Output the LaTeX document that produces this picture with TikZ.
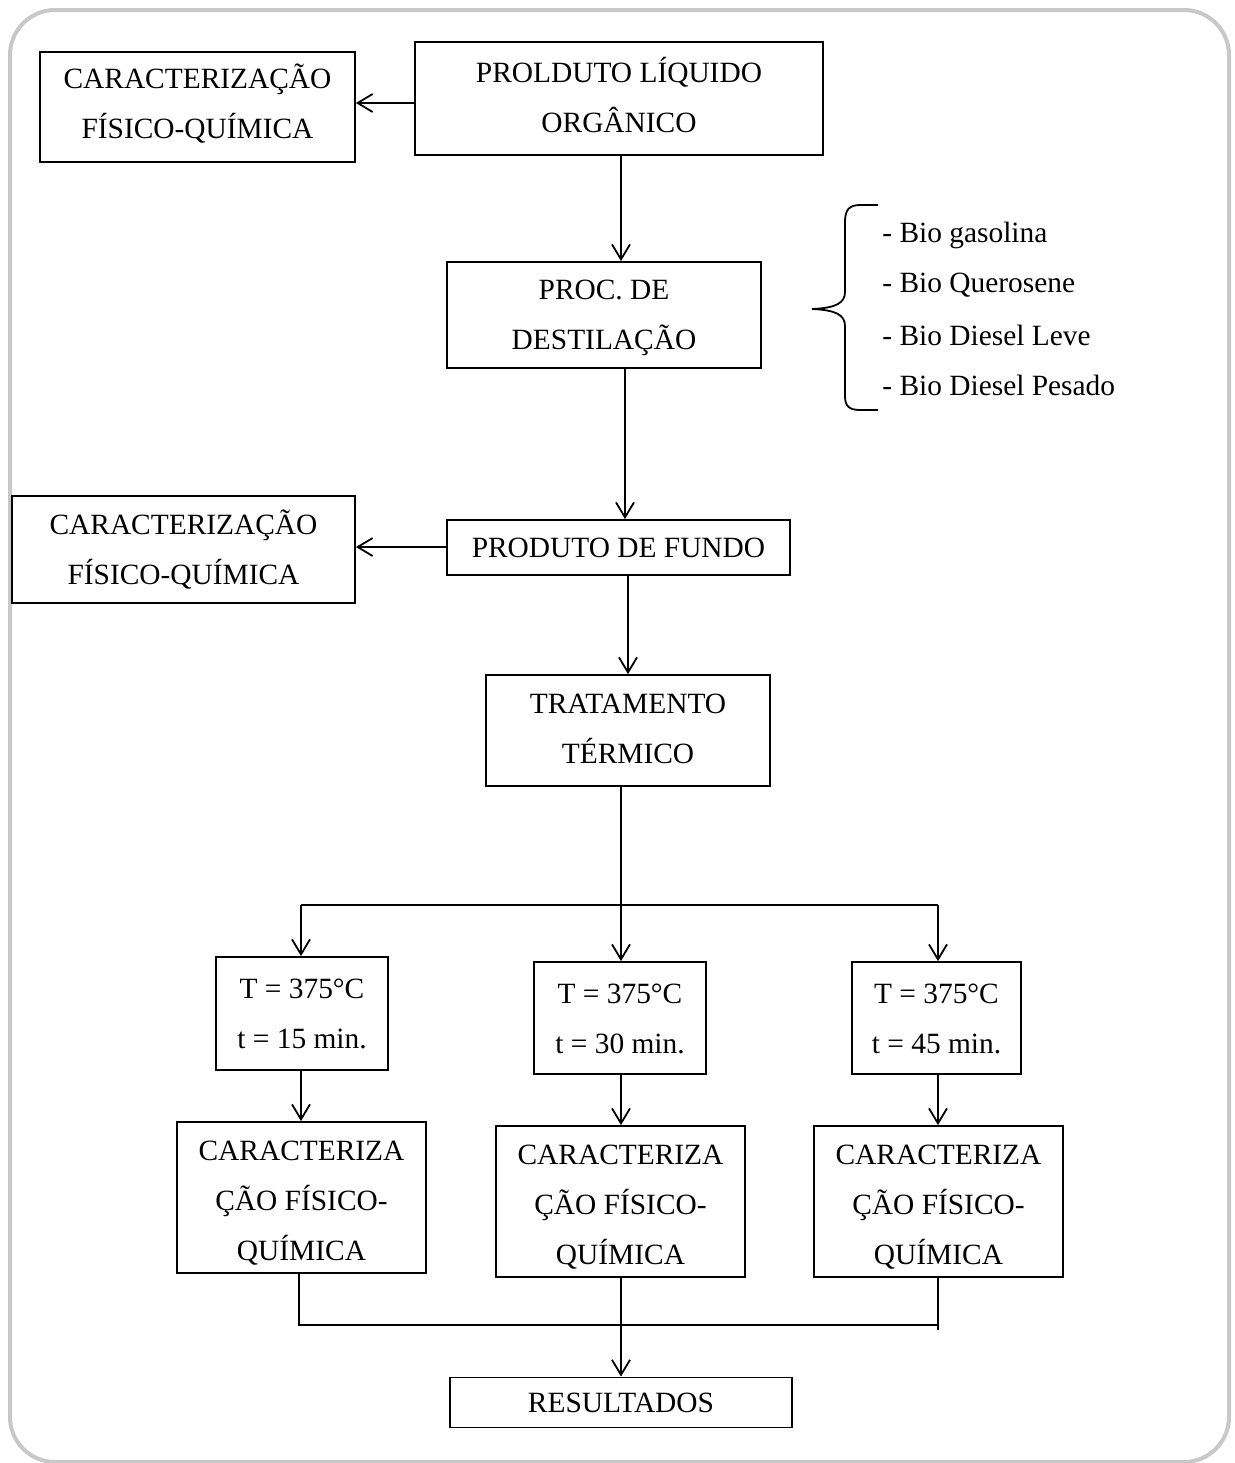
\documentclass[tikz,border=0pt]{standalone}
\usepackage{fontspec}
\setmainfont{Liberation Serif}
\usetikzlibrary{arrows.meta}
\definecolor{framegray}{RGB}{200,200,200}
\newcommand{\tb}[1]{\begin{tabular}{@{}c@{}}#1\end{tabular}}
\newcommand{\tbs}[2]{\raisebox{#1}[\dimexpr\height-(#1)\relax][\dimexpr\depth+(#1)\relax]{\tb{#2}}}
\begin{document}
\begin{tikzpicture}[x=0.5pt,y=-0.5pt,
 box/.style={draw, line width=0.9pt, inner sep=0pt, align=center, font=\fontsize{14.7}{25}\selectfont},
 arr/.style={line width=0.9pt, -{Straight Barb[length=7.5pt,width=9pt,line width=0.9pt]}},
 ln/.style={line width=0.9pt},
 lbl/.style={anchor=west, inner sep=0pt, font=\fontsize{14.7}{25}\selectfont}]
\useasboundingbox (0,0) rectangle (1235,1463);
\draw[line width=2pt, draw=framegray, rounded corners=22.5pt] (10,10) rectangle (1229,1462);

% boxes
\node[box, minimum width=157.5pt, minimum height=55pt] (c1) at (197.5,107) {\tbs{1pt}{CARACTERIZAÇÃO\\FÍSICO-QUÍMICA}};
\node[box, minimum width=204pt, minimum height=56.5pt] (p) at (619,98.5) {\tbs{0.25pt}{PROLDUTO LÍQUIDO\\ORGÂNICO}};
\node[box, minimum width=157pt, minimum height=53pt] (proc) at (604,315) {\tbs{0.25pt}{PROC. DE\\DESTILAÇÃO}};
\node[box, minimum width=171.5pt, minimum height=53.5pt] (c2) at (183.5,549.5) {\tb{CARACTERIZAÇÃO\\FÍSICO-QUÍMICA}};
\node[box, minimum width=171.5pt, minimum height=27.5pt] (fundo) at (618.5,547.5) {\tb{PRODUTO DE FUNDO}};
\node[box, minimum width=142pt, minimum height=55.5pt] (trat) at (628,730.5) {\tbs{0.5pt}{TRATAMENTO\\TÉRMICO}};
\node[box, minimum width=86pt, minimum height=56.5pt] (t1) at (302,1013.5) {\tb{T = 375°C\\t = 15 min.}};
\node[box, minimum width=86pt, minimum height=56pt] (t2) at (620,1018) {\tb{T = 375°C\\t = 30 min.}};
\node[box, minimum width=84.5pt, minimum height=56pt] (t3) at (936.5,1018) {\tb{T = 375°C\\t = 45 min.}};
\node[box, minimum width=124.5pt, minimum height=75.5pt] (k1) at (301.5,1197.5) {\tbs{-0.75pt}{CARACTERIZA\\ÇÃO FÍSICO-\\QUÍMICA}};
\node[box, minimum width=124.5pt, minimum height=75.5pt] (k2) at (620.5,1201.5) {\tbs{-0.75pt}{CARACTERIZA\\ÇÃO FÍSICO-\\QUÍMICA}};
\node[box, minimum width=124.5pt, minimum height=75.5pt] (k3) at (938.5,1201.5) {\tbs{-0.75pt}{CARACTERIZA\\ÇÃO FÍSICO-\\QUÍMICA}};
\node[box, minimum width=171pt, minimum height=22.5pt] (res) at (621,1402.5) {\tb{RESULTADOS}};

% list with brace
\node[lbl] (l1) at (882,235) {- Bio gasolina};
\node[lbl] (l2) at (882,285) {- Bio Querosene};
\node[lbl] (l3) at (882,335) {- Bio Diesel Leve};
\node[lbl] (l4) at (882,385) {- Bio Diesel Pesado};
\coordinate (btip) at (812,309);
\draw[line width=0.9pt] (878,205) -- (860,205) .. controls (849,205) and (845,210) .. (845,222)
  -- (845,292) .. controls (845,303) and (836,308) .. (btip)
  .. controls (836,310) and (845,315) .. (845,326)
  -- (845,396) .. controls (845,406) and (849,410) .. (860,410) -- (878,410);

% connectors
\coordinate (ya) at (0,103);
\draw[arr] (p.west |- ya) -- (c1.east |- ya);
\coordinate (xa) at (621,0);
\draw[arr] (p.south -| xa) -- (proc.north -| xa);
\coordinate (xb) at (625,0);
\draw[arr] (proc.south -| xb) -- (fundo.north -| xb);
\coordinate (yb) at (0,547);
\draw[arr] (fundo.west |- yb) -- (c2.east |- yb);
\coordinate (xc) at (628,0);
\draw[arr] (fundo.south -| xc) -- (trat.north -| xc);

\coordinate (xl) at (301,0);
\coordinate (xm) at (621,0);
\coordinate (xr) at (938,0);
\coordinate (ys) at (0,905);
\draw[arr] (trat.south -| xm) -- (t2.north -| xm);
\draw[arr] (xl |- ys) -- (t1.north -| xl);
\draw[arr] (xr |- ys) -- (t3.north -| xr);
\draw[ln] (xl |- ys) -- (xr |- ys);

\draw[arr] (t1.south -| xl) -- (k1.north -| xl);
\draw[arr] (t2.south -| xm) -- (k2.north -| xm);
\draw[arr] (t3.south -| xr) -- (k3.north -| xr);

\coordinate (xl2) at (299,0);
\coordinate (yj) at (0,1325);
\coordinate (yj2) at (0,1330);
\draw[ln] (k1.south -| xl2) -- (xl2 |- yj) -- (xr |- yj);
\draw[ln] (k3.south -| xr) -- (xr |- yj2);
\draw[arr] (k2.south -| xm) -- (res.north -| xm);
\end{tikzpicture}
\end{document}
